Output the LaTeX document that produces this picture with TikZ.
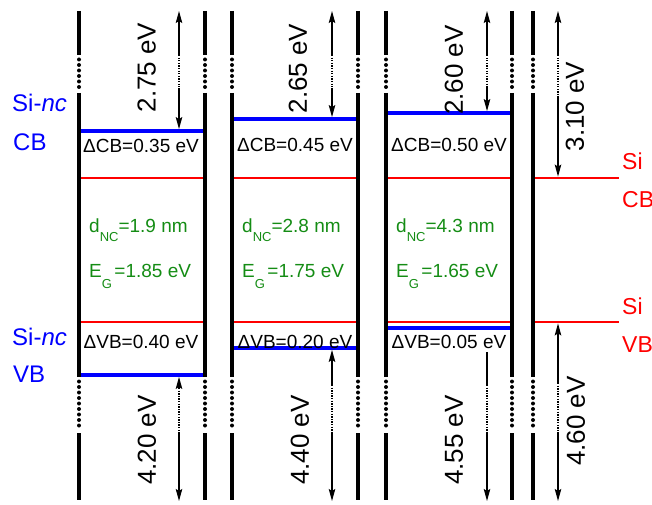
\documentclass[tikz,border=0pt]{standalone}
\usepackage{fontspec}
\setmainfont{Liberation Sans}
\usetikzlibrary{arrows.meta,calc}
\definecolor{bandblue}{RGB}{0,0,255}
\definecolor{bandred}{RGB}{255,0,0}
\definecolor{bandgreen}{RGB}{20,140,20}
\newcommand\bandfont{\fontsize{19}{22}\selectfont}
\newcommand\dimfont{\fontsize{26}{30}\selectfont}
\newcommand\labfont{\fontsize{23}{27}\selectfont}
\newcommand\bluefont{\fontsize{24}{28}\selectfont}
\newcommand\subfont{\fontsize{13}{15}\selectfont}
\newcommand\dnc[1]{d\raisebox{-9.5pt}{\subfont NC}=#1 nm}
\newcommand\egap[1]{E\raisebox{-11pt}{\subfont G}\hspace{2.5pt}=#1 eV}
\begin{document}
\begin{tikzpicture}[x=1pt,y=-1pt,
  wall/.style={line width=4.2pt},
  walldots/.style={line width=4pt,line cap=round,dash pattern=on 0pt off 5.5pt},
  nclevel/.style={line width=3.8pt,bandblue},
  silevel/.style={line width=2.8pt,bandred},
  dimline/.style={line width=1.3pt},
  dimdots/.style={line width=1.3pt,dash pattern=on 1.3pt off 1.3pt},
  >={Stealth[length=12pt,width=6.5pt,inset=2pt]},
  txt/.style={inner sep=0pt},
  dlab/.style={txt,font=\bandfont,anchor=base},
  glab/.style={txt,font=\bandfont,text=bandgreen,anchor=base west},
  vlab/.style={txt,font=\dimfont,rotate=90},
  blab/.style={txt,font=\bluefont,text=bandblue,anchor=base west},
  rlab/.style={txt,font=\labfont,text=bandred,anchor=base west}]
\useasboundingbox (0,0) rectangle (652,505);

% Si band edges (red)
\foreach \a/\b in {79/205,232/358,386/512,533/619}{
  \draw[silevel] (\a,178) -- (\b,178);
  \draw[silevel] (\a,322) -- (\b,322);
}
% Si-nc band edges (blue)
\draw[nclevel] (79,131) -- (205,131);
\draw[nclevel] (232,119) -- (358,119);
\draw[nclevel] (386,113) -- (512,113);
\draw[nclevel] (79,375) -- (205,375);
\draw[nclevel] (232,348) -- (358,348);
\draw[nclevel] (386,328) -- (512,328);

% walls
\foreach \x in {79,205,232,358,386,512,533}{
  \draw[wall] (\x,11) -- (\x,55);
  \draw[walldots] (\x,59.5) -- (\x,89);
  \draw[wall] (\x,93) -- (\x,377);
  \draw[walldots] (\x,381.5) -- (\x,429);
  \draw[wall] (\x,433) -- (\x,500);
}

% coordinates for the dimension arrows
\coordinate (t1) at (179,11);    \coordinate (c1) at (179,129.1);
\coordinate (t2) at (332,11);    \coordinate (c2) at (332,117.1);
\coordinate (t3) at (487,11);    \coordinate (c3) at (487,111.1);
\coordinate (t4) at (558,11);    \coordinate (c4) at (558,176.6);
\coordinate (v1) at (179,376.9); \coordinate (b1) at (179,501);
\coordinate (v2) at (332,349.9); \coordinate (b2) at (332,501);
\coordinate (v3) at (487,352);   \coordinate (b3) at (487,501);
\coordinate (v4) at (558,323.4); \coordinate (b4) at (558,501);

% top arrows: solid / dotted / solid
\foreach \i/\d in {1/88,2/88,3/86,4/96}{
  \draw[dimline,<-] (t\i) -- ($(t\i)+(0,44)$);
  \draw[dimdots] ($(t\i)+(0,44)$) -- ($(t\i |- 0,\d)$);
  \draw[dimline,->] ($(t\i |- 0,\d)$) -- (c\i);
}
% bottom arrows
\foreach \i/\s in {1/388,2/385,4/383}{
  \draw[dimline,->] ($(v\i |- 0,\s)$) -- (v\i);
}
\draw[dimline] (v3) -- ($(v3 |- 0,385)$);
\foreach \i/\s in {1/388,2/385,3/385,4/383}{
  \draw[dimdots] ($(v\i |- 0,\s)$) -- ($(v\i |- 0,432)$);
  \draw[dimline,->] ($(v\i |- 0,432)$) -- (b\i);
}

% dimension labels
\node[vlab] (e1) at (146.7,67.5) {2.75 eV};
\node[vlab] (e2) at (298,68.5) {2.65 eV};
\node[vlab] (e3) at (454,70) {2.60 eV};
\node[vlab] (e4) at (575,106.5) {3.10 eV};
\node[vlab] (f1) at (147,440) {4.20 eV};
\node[vlab] (f2) at (300,440) {4.40 eV};
\node[vlab] (f3) at (454,440) {4.55 eV};
\node[vlab] (f4) at (576,421) {4.60 eV};

% offsets
\node[dlab] (dc1) at (141,153) {ΔCB=0.35 eV};
\node[dlab] (dc2) at (295,151) {ΔCB=0.45 eV};
\node[dlab] (dc3) at (449,152) {ΔCB=0.50 eV};
\node[dlab] (dv1) at (141,348) {ΔVB=0.40 eV};
\node[dlab] (dv2) at (295,348) {ΔVB=0.20 eV};
\node[dlab] (dv3) at (449,348) {ΔVB=0.05 eV};

% nanocrystal size and gap
\node[glab] (d1) at (89,232) {\dnc{1.9}};
\node[glab] (g1) at (89,277) {\egap{1.85}};
\node[glab] (d2) at (242,232) {\dnc{2.8}};
\node[glab] (g2) at (242,277) {\egap{1.75}};
\node[glab] (d3) at (396,232) {\dnc{4.3}};
\node[glab] (g3) at (396,277) {\egap{1.65}};

% side labels
\node[blab] (ncc1) at (12,112) {Si-\textit{nc}};
\node[blab] (ncc2) at (13,150.5) {CB};
\node[blab] (ncv1) at (12,345) {Si-\textit{nc}};
\node[blab] (ncv2) at (13,382) {VB};
\node[rlab] (sic1) at (622,169) {Si};
\node[rlab] (sic2) at (622,207) {CB};
\node[rlab] (siv1) at (622,314) {Si};
\node[rlab] (siv2) at (622,352) {VB};
\end{tikzpicture}
\end{document}
